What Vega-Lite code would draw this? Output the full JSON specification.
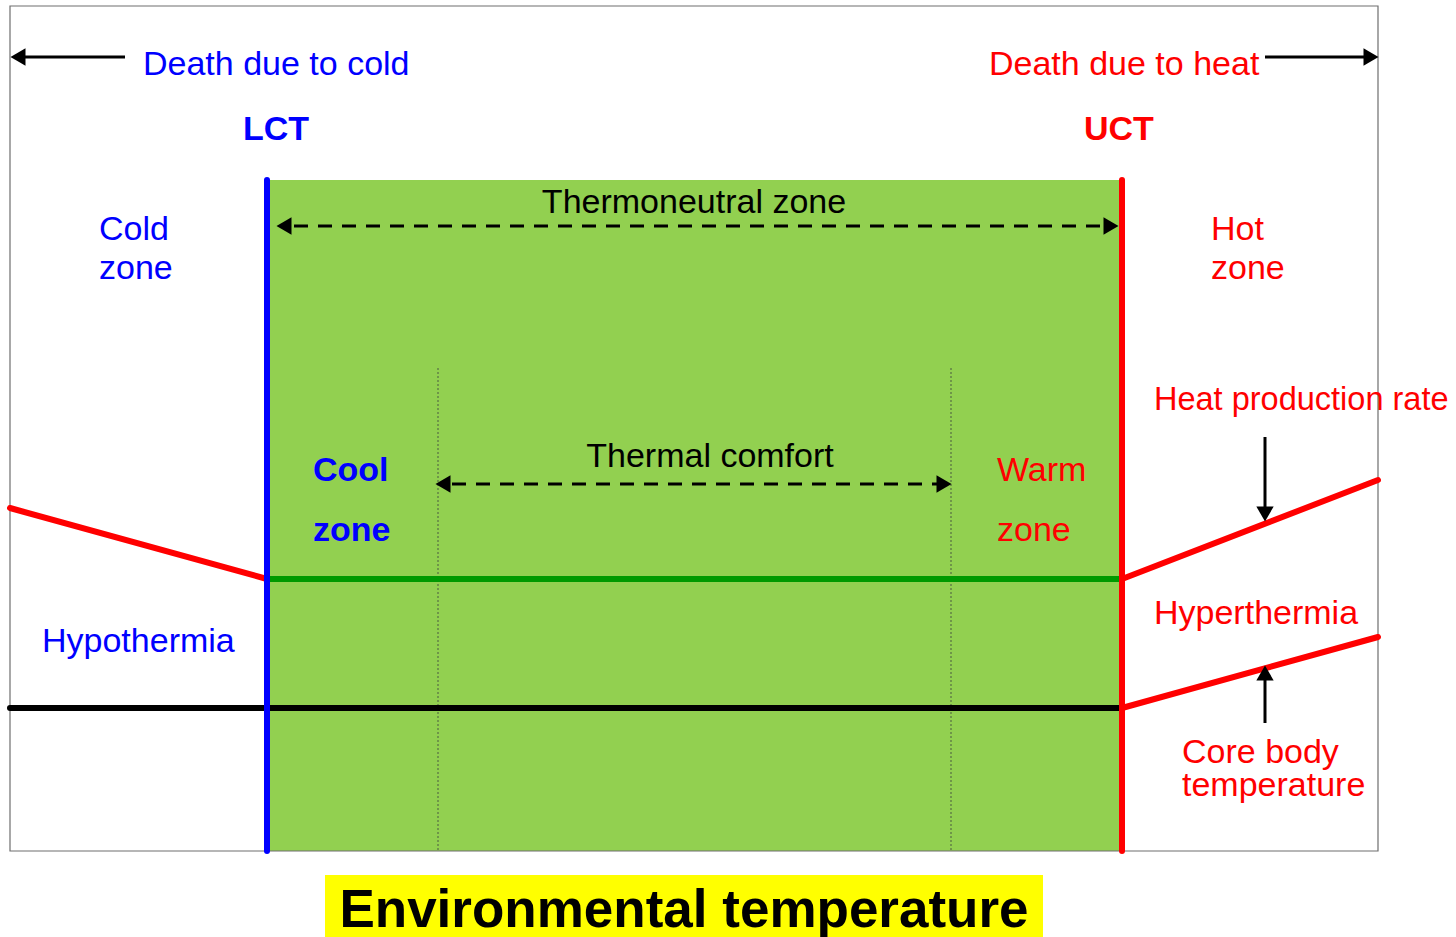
{
  "$schema": "https://vega.github.io/schema/vega-lite/v6.json",
  "width": 1456,
  "height": 937,
  "padding": 0,
  "autosize": {"type": "none"},
  "background": "white",
  "config": {"view": {"stroke": null}, "text": {"font": "Liberation Sans"}},
  "datasets": {
    "frame": [{"x": 10, "x2": 1378, "y": 6, "y2": 851}],
    "neutral": [{"x": 267, "x2": 1122, "y": 180, "y2": 851}],
    "comfortBounds": [{"x": 438, "x2": 438, "y": 368, "y2": 851}, {"x": 951, "x2": 951, "y": 368, "y2": 851}],
    "heatProdFlat": [{"x": 267, "x2": 1122, "y": 579, "y2": 579}],
    "coreFlat": [{"x": 10, "x2": 1122, "y": 708, "y2": 708}],
    "redCurves": [
      {"x": 10, "x2": 267, "y": 508, "y2": 579},
      {"x": 1122, "x2": 1378, "y": 579, "y2": 480},
      {"x": 1122, "x2": 1378, "y": 708, "y2": 637}
    ],
    "lct": [{"x": 267, "x2": 267, "y": 180, "y2": 851}],
    "uct": [{"x": 1122, "x2": 1122, "y": 180, "y2": 851}],
    "dashed": [
      {"x": 294, "x2": 1102, "y": 226, "y2": 226},
      {"x": 452, "x2": 938, "y": 484, "y2": 484}
    ],
    "solidArrows": [
      {"x": 22, "x2": 125, "y": 57, "y2": 57},
      {"x": 1265, "x2": 1366, "y": 57, "y2": 57},
      {"x": 1265, "x2": 1265, "y": 437, "y2": 510},
      {"x": 1265, "x2": 1265, "y": 678, "y2": 723}
    ],
    "headsLeft": [{"x": 284, "y": 226}, {"x": 443, "y": 484}, {"x": 18, "y": 57}],
    "headsRight": [{"x": 1111, "y": 226}, {"x": 944, "y": 484}, {"x": 1371, "y": 57}],
    "headsDown": [{"x": 1265, "y": 514}],
    "headsUp": [{"x": 1265, "y": 673}],
    "titleBox": [{"x": 325, "x2": 1043, "y": 875, "y2": 937}],
    "labelsRegular": [
      {"x": 143, "y": 75, "label": "Death  due to cold", "side": "cold"},
      {"x": 99, "y": 240, "label": "Cold", "side": "cold"},
      {"x": 99, "y": 279, "label": "zone", "side": "cold"},
      {"x": 42, "y": 652, "label": "Hypothermia", "side": "cold"},
      {"x": 989, "y": 75, "label": "Death due to heat", "side": "heat"},
      {"x": 1211, "y": 240, "label": "Hot", "side": "heat"},
      {"x": 1211, "y": 279, "label": "zone", "side": "heat"},
      {"x": 997, "y": 481, "label": "Warm", "side": "heat"},
      {"x": 997, "y": 541, "label": "zone", "side": "heat"},
      {"x": 1154, "y": 624, "label": "Hyperthermia", "side": "heat"},
      {"x": 1182, "y": 763, "label": "Core body", "side": "heat"},
      {"x": 1182, "y": 796, "label": "temperature", "side": "heat"}
    ],
    "labelsTight": [
      {"x": 1154, "y": 410, "label": "Heat production rate", "side": "heat"}
    ],
    "labelsBold": [
      {"x": 243, "y": 140, "label": "LCT", "side": "cold"},
      {"x": 313, "y": 481, "label": "Cool", "side": "cold"},
      {"x": 313, "y": 541, "label": "zone", "side": "cold"},
      {"x": 1084, "y": 140, "label": "UCT", "side": "heat"}
    ],
    "labelsCenter": [
      {"x": 694, "y": 213, "label": "Thermoneutral zone"},
      {"x": 710, "y": 467, "label": "Thermal comfort"}
    ],
    "title": [{"x": 684, "y": 927, "label": "Environmental temperature"}]
  },
  "layer": [
    {
      "data": {"name": "neutral"},
      "mark": {"type": "rect", "fill": "#92D050"},
      "encoding": {
        "x": {"field": "x", "type": "quantitative", "scale": {"domain": [0, 1456], "nice": false, "zero": false}, "axis": null},
        "x2": {"field": "x2"},
        "y": {"field": "y", "type": "quantitative", "scale": {"domain": [0, 937], "nice": false, "zero": false, "reverse": true}, "axis": null},
        "y2": {"field": "y2"}
      }
    },
    {
      "data": {"name": "comfortBounds"},
      "mark": {"type": "rule", "stroke": "#4a5a40", "strokeWidth": 1, "strokeDash": [2, 2]},
      "encoding": {
        "x": {"field": "x", "type": "quantitative"}, "x2": {"field": "x2"},
        "y": {"field": "y", "type": "quantitative"}, "y2": {"field": "y2"}
      }
    },
    {
      "data": {"name": "frame"},
      "mark": {"type": "rect", "fillOpacity": 0, "stroke": "#6e6e6e", "strokeWidth": 1.2},
      "encoding": {
        "x": {"field": "x", "type": "quantitative"}, "x2": {"field": "x2"},
        "y": {"field": "y", "type": "quantitative"}, "y2": {"field": "y2"}
      }
    },
    {
      "data": {"name": "heatProdFlat"},
      "mark": {"type": "rule", "stroke": "#009900", "strokeWidth": 6, "strokeCap": "round"},
      "encoding": {
        "x": {"field": "x", "type": "quantitative"}, "x2": {"field": "x2"},
        "y": {"field": "y", "type": "quantitative"}, "y2": {"field": "y2"}
      }
    },
    {
      "data": {"name": "coreFlat"},
      "mark": {"type": "rule", "stroke": "black", "strokeWidth": 6, "strokeCap": "round"},
      "encoding": {
        "x": {"field": "x", "type": "quantitative"}, "x2": {"field": "x2"},
        "y": {"field": "y", "type": "quantitative"}, "y2": {"field": "y2"}
      }
    },
    {
      "data": {"name": "redCurves"},
      "mark": {"type": "rule", "stroke": "#FF0000", "strokeWidth": 6, "strokeCap": "round"},
      "encoding": {
        "x": {"field": "x", "type": "quantitative"}, "x2": {"field": "x2"},
        "y": {"field": "y", "type": "quantitative"}, "y2": {"field": "y2"}
      }
    },
    {
      "data": {"name": "lct"},
      "mark": {"type": "rule", "stroke": "#0000FF", "strokeWidth": 6, "strokeCap": "round"},
      "encoding": {
        "x": {"field": "x", "type": "quantitative"}, "x2": {"field": "x2"},
        "y": {"field": "y", "type": "quantitative"}, "y2": {"field": "y2"}
      }
    },
    {
      "data": {"name": "uct"},
      "mark": {"type": "rule", "stroke": "#FF0000", "strokeWidth": 6, "strokeCap": "round"},
      "encoding": {
        "x": {"field": "x", "type": "quantitative"}, "x2": {"field": "x2"},
        "y": {"field": "y", "type": "quantitative"}, "y2": {"field": "y2"}
      }
    },
    {
      "data": {"name": "dashed"},
      "mark": {"type": "rule", "stroke": "black", "strokeWidth": 3, "strokeDash": [14, 10]},
      "encoding": {
        "x": {"field": "x", "type": "quantitative"}, "x2": {"field": "x2"},
        "y": {"field": "y", "type": "quantitative"}, "y2": {"field": "y2"}
      }
    },
    {
      "data": {"name": "solidArrows"},
      "mark": {"type": "rule", "stroke": "black", "strokeWidth": 3},
      "encoding": {
        "x": {"field": "x", "type": "quantitative"}, "x2": {"field": "x2"},
        "y": {"field": "y", "type": "quantitative"}, "y2": {"field": "y2"}
      }
    },
    {
      "data": {"name": "headsLeft"},
      "mark": {"type": "point", "shape": "triangle-left", "filled": true, "fill": "black", "opacity": 1, "size": 300},
      "encoding": {"x": {"field": "x", "type": "quantitative"}, "y": {"field": "y", "type": "quantitative"}}
    },
    {
      "data": {"name": "headsRight"},
      "mark": {"type": "point", "shape": "triangle-right", "filled": true, "fill": "black", "opacity": 1, "size": 300},
      "encoding": {"x": {"field": "x", "type": "quantitative"}, "y": {"field": "y", "type": "quantitative"}}
    },
    {
      "data": {"name": "headsDown"},
      "mark": {"type": "point", "shape": "triangle-down", "filled": true, "fill": "black", "opacity": 1, "size": 300},
      "encoding": {"x": {"field": "x", "type": "quantitative"}, "y": {"field": "y", "type": "quantitative"}}
    },
    {
      "data": {"name": "headsUp"},
      "mark": {"type": "point", "shape": "triangle-up", "filled": true, "fill": "black", "opacity": 1, "size": 300},
      "encoding": {"x": {"field": "x", "type": "quantitative"}, "y": {"field": "y", "type": "quantitative"}}
    },
    {
      "data": {"name": "titleBox"},
      "mark": {"type": "rect", "fill": "#FFFF00"},
      "encoding": {
        "x": {"field": "x", "type": "quantitative"}, "x2": {"field": "x2"},
        "y": {"field": "y", "type": "quantitative"}, "y2": {"field": "y2"}
      }
    },
    {
      "data": {"name": "labelsRegular"},
      "mark": {"type": "text", "align": "left", "baseline": "alphabetic", "fontSize": 34},
      "encoding": {
        "x": {"field": "x", "type": "quantitative"},
        "y": {"field": "y", "type": "quantitative"},
        "text": {"field": "label"},
        "color": {"field": "side", "type": "nominal", "scale": {"domain": ["cold", "heat"], "range": ["#0000FF", "#FF0000"]}, "legend": null}
      }
    },
    {
      "data": {"name": "labelsTight"},
      "mark": {"type": "text", "align": "left", "baseline": "alphabetic", "fontSize": 32.5},
      "encoding": {
        "x": {"field": "x", "type": "quantitative"},
        "y": {"field": "y", "type": "quantitative"},
        "text": {"field": "label"},
        "color": {"field": "side", "type": "nominal", "legend": null}
      }
    },
    {
      "data": {"name": "labelsBold"},
      "mark": {"type": "text", "align": "left", "baseline": "alphabetic", "fontSize": 34, "fontWeight": "bold"},
      "encoding": {
        "x": {"field": "x", "type": "quantitative"},
        "y": {"field": "y", "type": "quantitative"},
        "text": {"field": "label"},
        "color": {"field": "side", "type": "nominal", "legend": null}
      }
    },
    {
      "data": {"name": "labelsCenter"},
      "mark": {"type": "text", "align": "center", "baseline": "alphabetic", "fontSize": 34, "fill": "black"},
      "encoding": {
        "x": {"field": "x", "type": "quantitative"},
        "y": {"field": "y", "type": "quantitative"},
        "text": {"field": "label"}
      }
    },
    {
      "data": {"name": "title"},
      "mark": {"type": "text", "align": "center", "baseline": "alphabetic", "fontSize": 53, "fontWeight": "bold", "fill": "black"},
      "encoding": {
        "x": {"field": "x", "type": "quantitative"},
        "y": {"field": "y", "type": "quantitative"},
        "text": {"field": "label"}
      }
    }
  ]
}
